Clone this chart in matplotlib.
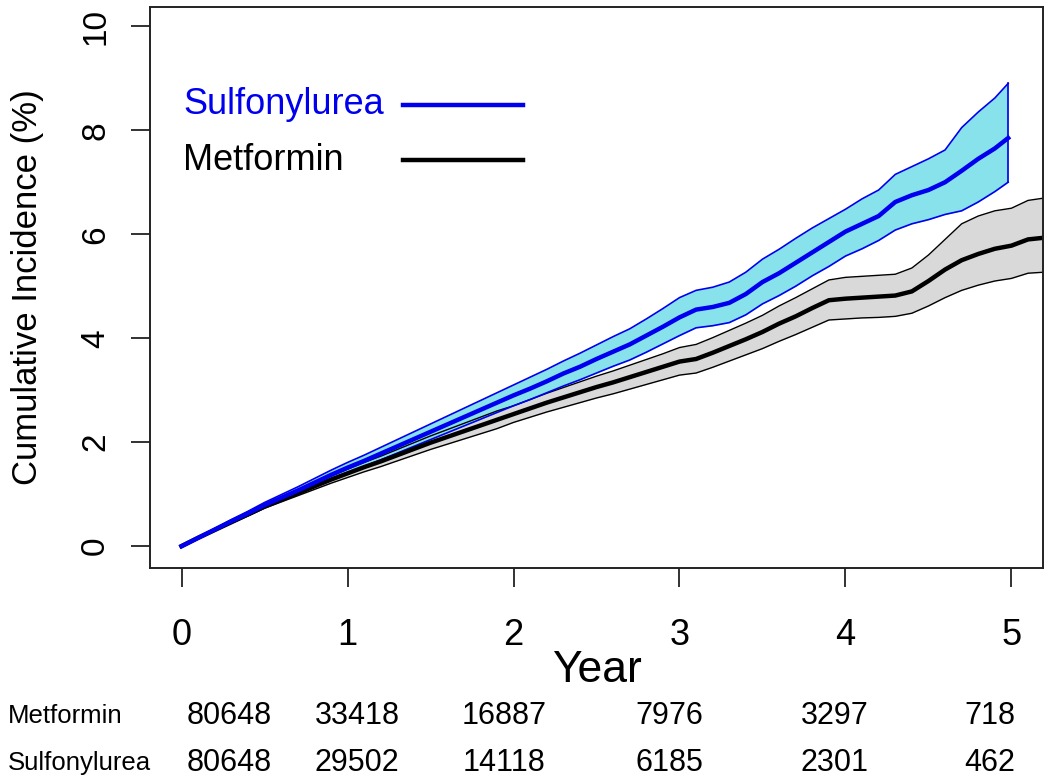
# Cumulative incidence curves, sulfonylurea vs metformin, with 95% CI bands
# and a numbers-at-risk table under the x axis

import matplotlib.pyplot as plt

# --- values ---
years_su = [0.0, 0.1, 0.2, 0.3, 0.4, 0.5, 0.6, 0.7, 0.8, 0.9,
            1.0, 1.1, 1.2, 1.3, 1.4, 1.5, 1.6, 1.7, 1.8, 1.9,
            2.0, 2.1, 2.2, 2.3, 2.4, 2.5, 2.6, 2.7, 2.8, 2.9,
            3.0, 3.1, 3.2, 3.3, 3.4, 3.5, 3.6, 3.7, 3.8, 3.9,
            4.0, 4.1, 4.2, 4.3, 4.4, 4.5, 4.6, 4.7, 4.8, 4.9, 4.98]
su_est = [0.00, 0.16, 0.32, 0.48, 0.63, 0.79, 0.93, 1.07, 1.22, 1.37,
          1.51, 1.64, 1.78, 1.92, 2.06, 2.20, 2.34, 2.48, 2.62, 2.76,
          2.90, 3.03, 3.17, 3.32, 3.45, 3.60, 3.74, 3.88, 4.05, 4.22,
          4.40, 4.55, 4.60, 4.68, 4.85, 5.08, 5.25, 5.45, 5.65, 5.85,
          6.05, 6.20, 6.35, 6.62, 6.75, 6.85, 7.00, 7.22, 7.45, 7.65, 7.85]
su_upper = [0.00, 0.17, 0.34, 0.51, 0.67, 0.84, 0.99, 1.14, 1.30, 1.46,
            1.61, 1.75, 1.90, 2.05, 2.20, 2.35, 2.50, 2.65, 2.80, 2.95,
            3.10, 3.25, 3.40, 3.56, 3.71, 3.87, 4.03, 4.18, 4.37, 4.57,
            4.78, 4.92, 4.98, 5.08, 5.27, 5.52, 5.71, 5.92, 6.12, 6.30,
            6.48, 6.68, 6.85, 7.15, 7.30, 7.45, 7.62, 8.05, 8.35, 8.62, 8.90]
su_lower = [0.00, 0.15, 0.30, 0.45, 0.59, 0.74, 0.87, 1.00, 1.14, 1.28,
            1.41, 1.53, 1.66, 1.79, 1.92, 2.05, 2.18, 2.31, 2.44, 2.57,
            2.70, 2.82, 2.95, 3.08, 3.20, 3.33, 3.46, 3.58, 3.73, 3.89,
            4.05, 4.20, 4.24, 4.30, 4.45, 4.66, 4.82, 5.00, 5.20, 5.38,
            5.58, 5.72, 5.88, 6.08, 6.20, 6.28, 6.38, 6.45, 6.62, 6.82, 7.00]

years_met = [0.0, 0.1, 0.2, 0.3, 0.4, 0.5, 0.6, 0.7, 0.8, 0.9,
             1.0, 1.1, 1.2, 1.3, 1.4, 1.5, 1.6, 1.7, 1.8, 1.9,
             2.0, 2.1, 2.2, 2.3, 2.4, 2.5, 2.6, 2.7, 2.8, 2.9,
             3.0, 3.1, 3.2, 3.3, 3.4, 3.5, 3.6, 3.7, 3.8, 3.9,
             4.0, 4.1, 4.2, 4.3, 4.4, 4.5, 4.6, 4.7, 4.8, 4.9,
             5.0, 5.1, 5.25]
met_est = [0.00, 0.16, 0.31, 0.46, 0.61, 0.76, 0.89, 1.02, 1.15, 1.28,
           1.40, 1.52, 1.63, 1.75, 1.87, 1.99, 2.10, 2.21, 2.32, 2.43,
           2.54, 2.65, 2.76, 2.86, 2.96, 3.06, 3.15, 3.25, 3.35, 3.45,
           3.55, 3.60, 3.72, 3.85, 3.98, 4.12, 4.28, 4.42, 4.58, 4.73,
           4.76, 4.78, 4.80, 4.82, 4.90, 5.10, 5.32, 5.50, 5.62, 5.72,
           5.78, 5.90, 5.95]
met_upper = [0.00, 0.17, 0.32, 0.48, 0.64, 0.79, 0.93, 1.07, 1.21, 1.35,
             1.48, 1.61, 1.73, 1.86, 1.99, 2.12, 2.24, 2.36, 2.48, 2.60,
             2.70, 2.82, 2.94, 3.05, 3.16, 3.27, 3.37, 3.48, 3.59, 3.70,
             3.82, 3.88, 4.01, 4.15, 4.29, 4.44, 4.62, 4.78, 4.95, 5.12,
             5.17, 5.19, 5.21, 5.23, 5.35, 5.60, 5.90, 6.20, 6.35, 6.45,
             6.50, 6.65, 6.72]
met_lower = [0.00, 0.15, 0.30, 0.44, 0.58, 0.73, 0.85, 0.97, 1.09, 1.21,
             1.32, 1.43, 1.53, 1.64, 1.75, 1.86, 1.96, 2.06, 2.16, 2.26,
             2.38, 2.48, 2.58, 2.67, 2.76, 2.85, 2.93, 3.02, 3.11, 3.20,
             3.29, 3.33, 3.44, 3.56, 3.68, 3.80, 3.94, 4.07, 4.21, 4.35,
             4.37, 4.39, 4.40, 4.42, 4.48, 4.62, 4.78, 4.92, 5.02, 5.10,
             5.15, 5.25, 5.28]

# numbers at risk
risk_labels = ['Metformin', 'Sulfonylurea']
risk_met = [80648, 33418, 16887, 7976, 3297, 718]
risk_su = [80648, 29502, 14118, 6185, 2301, 462]

xticks = [0, 1, 2, 3, 4, 5]
yticks = [0, 2, 4, 6, 8, 10]

blue = '#0000ee'

plt.rcParams['font.family'] = ['Liberation Sans', 'DejaVu Sans']

fig = plt.figure(figsize=(10.5, 7.82), dpi=100)
ax = fig.add_axes([150/1050, 1 - 568/782, 893/1050, 561/782])

# CI bands first, then the estimate lines on top
ax.fill_between(years_met, met_lower, met_upper, color='#d9d9d9', lw=0)
ax.plot(years_met, met_upper, color='black', lw=1.0)
ax.plot(years_met, met_lower, color='black', lw=1.0)

ax.fill_between(years_su, su_lower, su_upper, color='#88e2ec', lw=0)
ax.plot(years_su, su_upper, color=blue, lw=1.2)
ax.plot(years_su, su_lower, color=blue, lw=1.2)
# R draws the last bound segment down to the end of the band
ax.plot([years_su[-1], years_su[-1]], [su_lower[-1], su_upper[-1]],
        color=blue, lw=1.2)

ax.plot(years_met, met_est, color='black', lw=3.2)
ax.plot(years_su, su_est, color=blue, lw=3.2)

ax.set_xlim(-0.19, 5.19)
ax.set_ylim(-0.42, 10.37)
ax.set_xticks(xticks)
ax.set_yticks(yticks)
ax.tick_params(axis='both', length=14, width=1.3, color='#222222')
ax.tick_params(axis='x', pad=22, labelsize=26)
ax.tick_params(axis='y', pad=14, labelsize=24)
for lab in ax.get_yticklabels():
    lab.set_rotation(90)
    lab.set_va('center')
for sp in ax.spines.values():
    sp.set_linewidth(1.4)
    sp.set_color('#222222')

ax.set_xlabel('Year', fontsize=32, labelpad=-2)
ax.set_ylabel('Cumulative Incidence (%)', fontsize=25, labelpad=26)

# legend drawn by hand: left-aligned text, then a line sample
leg_names = ['Sulfonylurea', 'Metformin']
leg_colors = [blue, 'black']
leg_y = [105, 160]
for name, col, py in zip(leg_names, leg_colors, leg_y):
    fy = 1 - py/782
    fig.text(183/1050, fy, name, ha='left', va='center', fontsize=26,
             color=col)
    fig.add_artist(plt.Line2D([403/1050, 523/1050], [fy, fy],
                              color=col, lw=3.2,
                              transform=fig.transFigure))

# numbers-at-risk table
col_x = [229, 357, 504, 669, 835, 990]
row_y = [716, 763]
for r, (name, counts) in enumerate(zip(risk_labels, [risk_met, risk_su])):
    fig.text(8/1050, 1 - row_y[r]/782, name, ha='left', va='center',
             fontsize=18.5)
    for cx, n in zip(col_x, counts):
        fig.text(cx/1050, 1 - row_y[r]/782, str(n), ha='center',
                 va='center', fontsize=22)

fig.savefig('out.png', dpi=100)
